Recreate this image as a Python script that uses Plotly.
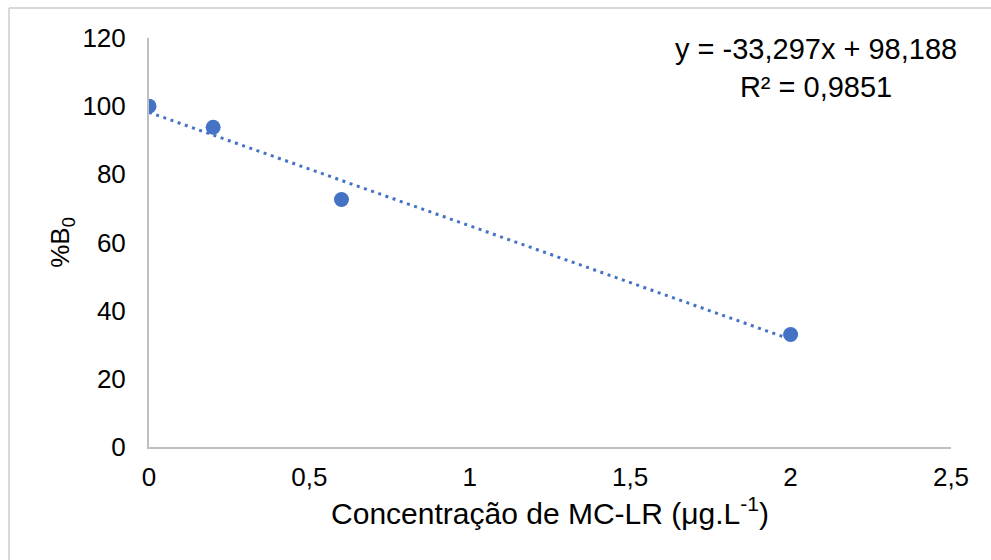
import plotly.graph_objects as go

# Data
conc = [0, 0.2, 0.6, 2]
b0_pct = [100, 93.8, 72.6, 33.0]
trend_slope = -33.297
trend_intercept = 98.188
r_squared = 0.9851
x_ticks = [0, 0.5, 1, 1.5, 2, 2.5]
x_tick_labels = ["0", "0,5", "1", "1,5", "2", "2,5"]
y_ticks = [0, 20, 40, 60, 80, 100, 120]

BLUE = "#4472C4"
FONT = "Liberation Sans, Arial, sans-serif"

W, H = 991, 560
L, R, T, B = 149, 40, 38, 113
pw = W - L - R
ph = H - T - B

def px_x(p):
    return (p - L) / pw

def px_y(p):
    return (H - B - p) / ph

trend_x = [min(conc), max(conc)]
trend_y = [trend_intercept + trend_slope * v for v in trend_x]

fig = go.Figure()
fig.add_trace(go.Scatter(
    x=trend_x, y=trend_y, mode="lines",
    line=dict(color=BLUE, width=3, dash="3px,4.6px"),
    hoverinfo="skip", showlegend=False,
))
fig.add_trace(go.Scatter(
    x=conc, y=b0_pct, mode="markers",
    marker=dict(color=BLUE, size=15, line=dict(width=0)),
    showlegend=False,
))

def fmt(v, d):
    return f"{v:.{d}f}".replace(".", ",")

eq_text = (f"y = {fmt(trend_slope, 3)}x + {fmt(trend_intercept, 3)}<br>"
           f"R² = {fmt(r_squared, 4)}")

fig.add_annotation(
    text=eq_text, xref="paper", yref="paper",
    x=px_x(816), y=px_y(31),
    xanchor="center", yanchor="top", align="center",
    showarrow=False, font=dict(family=FONT, size=29, color="#000000"),
)

# outer chart border (partially visible: top and left edges)
fig.add_shape(type="line", xref="paper", yref="paper",
              x0=px_x(9), x1=px_x(991), y0=px_y(8), y1=px_y(8),
              line=dict(color="#D9D9D9", width=2))
fig.add_shape(type="line", xref="paper", yref="paper",
              x0=px_x(9), x1=px_x(9), y0=px_y(8), y1=px_y(560),
              line=dict(color="#D9D9D9", width=2))

fig.update_layout(
    width=W, height=H,
    margin=dict(l=L, r=R, t=T, b=B, pad=0),
    paper_bgcolor="white", plot_bgcolor="white",
    font=dict(family=FONT, size=26, color="#000000"),
    xaxis=dict(
        range=[0, 2.5], tickvals=x_ticks, ticktext=x_tick_labels,
        showgrid=False, zeroline=False, showline=True,
        linecolor="#BFBFBF", linewidth=2,
        ticks="outside", ticklen=6, tickcolor="rgba(0,0,0,0)",
        tickfont=dict(size=26),
        title=dict(text="Concentração de MC-LR (μg.L<sup>-1</sup>)",
                   font=dict(size=30), standoff=10),
    ),
    yaxis=dict(
        range=[0, 120], tickvals=y_ticks,
        showgrid=False, zeroline=False, showline=True,
        linecolor="#BFBFBF", linewidth=2,
        ticks="outside", ticklen=16, tickcolor="rgba(0,0,0,0)",
        tickfont=dict(size=26),
        title=dict(text="%B<sub>0</sub>", font=dict(size=26), standoff=5),
    ),
)

fig.write_html("out.html", config={"displayModeBar": False},
               post_script="document.body.style.margin='0';")
